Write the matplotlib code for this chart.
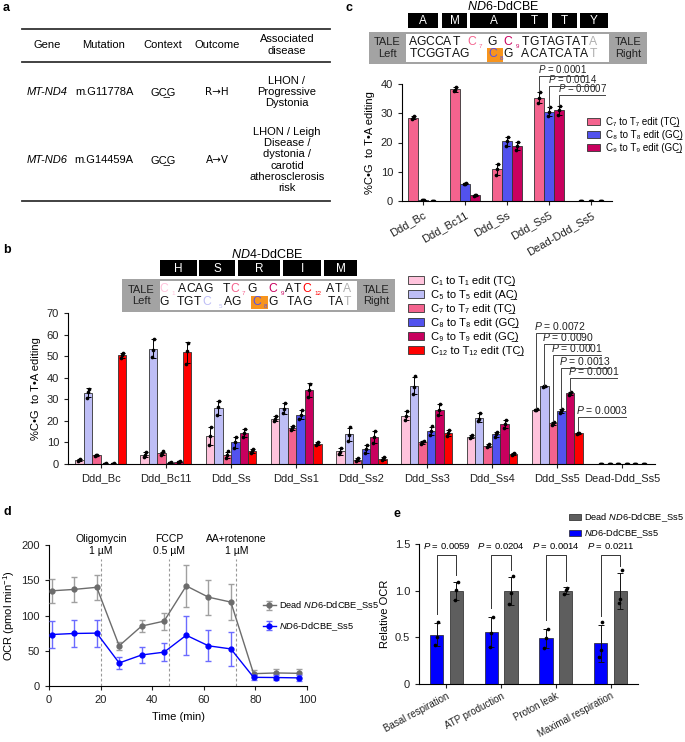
import numpy as np
import matplotlib
matplotlib.use("Agg")
import matplotlib.pyplot as plt
from matplotlib.patches import Rectangle, Patch
from matplotlib.lines import Line2D

plt.rcParams['font.family'] = ['Liberation Sans', 'DejaVu Sans']
plt.rcParams['mathtext.fontset'] = 'custom'
plt.rcParams['mathtext.rm'] = 'Liberation Sans'
plt.rcParams['mathtext.it'] = 'Liberation Sans:italic'
plt.rcParams['mathtext.bf'] = 'Liberation Sans:bold'
plt.rcParams['font.size'] = 8
plt.rcParams['axes.linewidth'] = 0.8
plt.rcParams['xtick.major.width'] = 0.8
plt.rcParams['ytick.major.width'] = 0.8
plt.rcParams['xtick.major.size'] = 3
plt.rcParams['ytick.major.size'] = 3

UL = '\u0332'          # combining low line, underlines the previous letter
SUB = str.maketrans('0123456789', '\u2080\u2081\u2082\u2083\u2084\u2085\u2086\u2087\u2088\u2089')

# ---------------- data ----------------
# panel a
genes = ['MT-ND4', 'MT-ND6']
mutations = ['m.G11778A', 'm.G14459A']
contexts = ['GC' + UL + 'G', 'GC' + UL + 'G']
outcomes = ['R\u2192H', 'A\u2192V']
diseases = ['LHON /\nProgressive\nDystonia',
            'LHON / Leigh\nDisease /\ndystonia /\ncarotid\natherosclerosis\nrisk']

# panel b (ND4-DdCBE), 3 replicates per bar
b_groups = ['Ddd_Bc', 'Ddd_Bc11', 'Ddd_Ss', 'Ddd_Ss1', 'Ddd_Ss2', 'Ddd_Ss3',
            'Ddd_Ss4', 'Ddd_Ss5', 'Dead-Ddd_Ss5']
b_series = ['1', '5', '7', '8', '9', '12']
b_context = ['T', 'A', 'T', 'G', 'G', 'T']
b_c1 = [[1.5, 2.0, 2.5], [3.2, 4.0, 5.6], [9.0, 13.0, 17.0], [20.0, 21.0, 22.2],
        [4.6, 5.4, 7.4], [20.5, 22.3, 24.4], [12.0, 12.7, 13.4], [24.9, 25.2, 25.5],
        [0.0, 0.05, 0.1]]
b_c5 = [[30.8, 33.2, 35.0], [49.5, 53.0, 58.0], [22.5, 26.5, 29.0], [23.5, 25.5, 28.2],
        [10.8, 13.5, 17.0], [32.5, 35.8, 40.6], [19.8, 21.0, 23.7], [35.8, 36.0, 36.2],
        [0.0, 0.05, 0.1]]
b_c7 = [[3.8, 4.1, 4.4], [4.3, 5.0, 5.8], [3.0, 4.0, 5.8], [15.6, 16.6, 17.8],
        [1.5, 2.0, 2.6], [9.3, 10.0, 10.8], [8.0, 8.5, 9.1], [18.3, 18.8, 19.3],
        [0.0, 0.05, 0.1]]
b_c8 = [[0.1, 0.2, 0.3], [0.3, 0.5, 0.7], [7.5, 10.0, 12.5], [21.0, 22.8, 25.0],
        [5.3, 7.0, 8.9], [13.5, 15.3, 17.4], [12.5, 13.9, 15.0], [23.5, 24.4, 25.6],
        [0.0, 0.05, 0.1]]
b_c9 = [[0.1, 0.2, 0.3], [0.7, 1.0, 1.3], [12.7, 14.6, 16.2], [31.0, 34.3, 37.3],
        [9.9, 12.5, 15.5], [22.8, 25.2, 27.6], [16.9, 18.7, 20.5], [32.2, 32.7, 33.2],
        [0.0, 0.05, 0.1]]
b_c12 = [[49.0, 50.4, 51.6], [46.5, 52.5, 56.1], [5.0, 6.0, 7.0], [8.6, 9.5, 10.4],
         [1.9, 2.5, 3.1], [13.0, 14.4, 15.8], [4.4, 4.8, 5.2], [14.0, 14.3, 14.6],
         [0.0, 0.05, 0.1]]
b_reps = [b_c1, b_c5, b_c7, b_c8, b_c9, b_c12]
b_colors = ['#FFC3DC', '#BEBEF6', '#F4638E', '#5252EE', '#C8005E', '#FF0000']
b_pvals = ['0.0072', '0.0090', '0.0001', '0.0013', '0.0001', '0.0003']
b_p_heights = [60.7, 55.6, 50.5, 44.5, 39.9, 21.8]
b_aa = ['H', 'S', 'R', 'I', 'M']

# panel c (ND6-DdCBE)
c_groups = ['Ddd_Bc', 'Ddd_Bc11', 'Ddd_Ss', 'Ddd_Ss5', 'Dead-Ddd_Ss5']
c_series = ['7', '8', '9']
c_context = ['T', 'G', 'G']
c_c7 = [[28.0, 28.4, 29.0], [37.5, 38.0, 38.9], [9.0, 10.8, 12.7], [33.6, 35.2, 37.2],
        [0.05, 0.1, 0.15]]
c_c8 = [[0.3, 0.4, 0.5], [5.8, 5.9, 6.0], [18.8, 20.5, 22.0], [29.0, 30.5, 32.0],
        [0.05, 0.1, 0.15]]
c_c9 = [[0.0, 0.05, 0.1], [1.6, 1.9, 2.2], [17.3, 18.8, 20.3], [29.5, 31.0, 32.5],
        [0.05, 0.1, 0.15]]
c_reps = [c_c7, c_c8, c_c9]
c_colors = ['#F4638E', '#5252EE', '#C8005E']
c_pvals = ['0.0001', '0.0014', '0.0007']
c_p_heights = [42.7, 39.2, 36.2]
c_aa = ['A', 'M', 'A', 'T', 'T', 'Y']

# panel d (Seahorse OCR)
time_min = [1.0, 9.7, 18.5, 27.2, 35.9, 44.6, 53.2, 61.8, 70.5, 79.3, 88.1, 96.8]
dead_ocr = [135, 137, 140, 57, 85, 92, 142, 126, 119, 17.5, 18.5, 18]
dead_sd = [17, 18, 18, 6, 9, 12, 30, 25, 26, 5, 6, 6]
ss5_ocr = [73, 74.5, 75, 32.7, 44, 48, 72, 57, 52.6, 12.3, 12, 11.5]
ss5_sd = [19, 19, 19, 8.5, 12, 13, 28, 22, 24, 4, 4, 4]
injections = [20.2, 46.7, 72.6]
injection_labels = ['Oligomycin\n1 \u00b5M', 'FCCP\n0.5 \u00b5M', 'AA+rotenone\n1 \u00b5M']

# panel e (relative OCR)
e_groups = ['Basal respiration', 'ATP production', 'Proton leak', 'Maximal respiration']
e_ss5 = [[0.42, 0.50, 0.66], [0.40, 0.55, 0.72], [0.39, 0.49, 0.59], [0.29, 0.36, 0.66]]
e_dead = [[0.90, 1.01, 1.09], [0.86, 0.98, 1.16], [0.96, 1.01, 1.03], [0.87, 0.91, 1.22]]
e_pvals = ['0.0059', '0.0204', '0.0014', '0.0211']

# ---------------- figure ----------------
W, H = 685, 742
fig = plt.figure(figsize=(W / 100, H / 100), dpi=100)


def px_axes(x0, y0, x1, y1):
    return fig.add_axes([x0 / W, 1 - y1 / H, (x1 - x0) / W, (y1 - y0) / H])


def ftxt(x, y, s, **kw):
    return fig.text(x / W, 1 - y / H, s, **kw)


def frect(x0, y0, x1, y1, **kw):
    fig.add_artist(Rectangle((x0 / W, 1 - y1 / H), (x1 - x0) / W, (y1 - y0) / H,
                             transform=fig.transFigure, **kw))


def fline(x0, y0, x1, y1, **kw):
    fig.add_artist(Line2D([x0 / W, x1 / W], [1 - y0 / H, 1 - y1 / H],
                          transform=fig.transFigure, **kw))


def style_ax(ax):
    for s in ['top', 'right']:
        ax.spines[s].set_visible(False)
    ax.tick_params(labelsize=8, colors='#222222')


def legend_label(n, ctx):
    s = n.translate(SUB)
    return 'C%s to T%s edit (%sC%s)' % (s, s, ctx, UL)


# panel labels
for lab, x, y in [('a', 3, 8), ('b', 3, 250), ('c', 345, 8), ('d', 3, 512), ('e', 393, 514)]:
    ftxt(x, y, lab, fontsize=9, fontweight='bold', va='center')

# ---------- a: table ----------
fline(22, 29, 330, 29, color='#333333', lw=1.3)
fline(22, 62, 330, 62, color='#333333', lw=1.3)
fline(22, 201, 330, 201, color='#333333', lw=1.3)
col_x = [47, 104, 163, 217, 287]
for cx, h in zip(col_x, ['Gene', 'Mutation', 'Context', 'Outcome', 'Associated\ndisease']):
    ftxt(cx, 45, h, ha='center', va='center', linespacing=1.15)
row_y = [92, 160]
for i, ry in enumerate(row_y):
    ftxt(col_x[0], ry, genes[i], ha='center', va='center', style='italic')
    ftxt(col_x[1], ry, mutations[i], ha='center', va='center')
    ftxt(col_x[2], ry, contexts[i], ha='center', va='center')
    ftxt(col_x[3], ry, outcomes[i], ha='center', va='center', family=['DejaVu Sans'],
         fontsize=7.5)
    ftxt(col_x[4], ry, diseases[i], ha='center', va='center', linespacing=1.15)


# ---------- sequence headers ----------
def seq_header(title, tx, ty, aa, aa_edges, aa_y, box, top, bottom, hl, ys):
    ftxt(tx, ty, title, ha='center', va='center', fontsize=9)
    for a, (x0, x1) in zip(aa, aa_edges):
        frect(x0, aa_y[0], x1, aa_y[1], facecolor='black', edgecolor='none')
        ftxt((x0 + x1) / 2, (aa_y[0] + aa_y[1]) / 2 + 0.5, a, color='white',
             ha='center', va='center', fontsize=8.5)
    gl, wl, wr, gr, y0, y1 = box
    frect(gl, y0, gr, y1, facecolor='#a3a3a3', edgecolor='none')
    frect(wl, y0 + 2, wr, y1 - 2, facecolor='white', edgecolor='none')
    ftxt((gl + wl) / 2, (y0 + y1) / 2, 'TALE\nLeft', ha='center', va='center',
         fontsize=8, linespacing=1.2, color='#222222')
    ftxt((wr + gr) / 2, (y0 + y1) / 2, 'TALE\nRight', ha='center', va='center',
         fontsize=8, linespacing=1.2, color='#222222')
    frect(hl[0], hl[1], hl[2], hl[3], facecolor='#F7941D', edgecolor='none')
    for row, y in zip([top, bottom], ys):
        for x, s, col, sub in row:
            if sub:
                ftxt(x, y + 4, s, ha='center', va='center', fontsize=4.5, color=col)
            else:
                ftxt(x, y, s, ha='center', va='center', fontsize=8.7, color=col)


K, GR = '#111111', '#b0b0b0'
b_top = [(164, 'C', b_colors[0], 0), (173, '1', b_colors[0], 1), (182, 'A', K, 0),
         (191, 'C', K, 0), (199, 'A', K, 0), (208, 'G', K, 0), (226, 'T', K, 0),
         (235, 'C', b_colors[2], 0), (243, '7', b_colors[2], 1), (252, 'G', K, 0),
         (273, 'C', b_colors[4], 0), (282, '9', b_colors[4], 1), (289, 'A', K, 0),
         (297, 'T', K, 0), (307, 'C', b_colors[5], 0), (318, '12', b_colors[5], 1),
         (330, 'A', K, 0), (338, 'T', K, 0), (347, 'A', GR, 0)]
b_bot = [(164, 'G', K, 0), (180, 'T', K, 0), (188, 'G', K, 0), (197, 'T', K, 0),
         (207, 'C', b_colors[1], 0), (220, '5', b_colors[1], 1), (228, 'A', K, 0),
         (236, 'G', K, 0), (257, 'C', b_colors[3], 0), (265, '8', b_colors[3], 1),
         (273, 'G', K, 0), (290, 'T', K, 0), (298, 'A', K, 0), (307, 'G', K, 0),
         (331, 'T', K, 0), (339, 'A', K, 0), (347, 'T', GR, 0)]
seq_header(r'$\mathit{ND4}$-DdCBE', 267, 254, b_aa,
           [(160, 197), (199, 235), (238, 280), (283, 321), (324, 357)], (260, 276),
           (122, 160, 357, 395, 279, 312), b_top, b_bot, (251, 296, 268, 309), (289, 302))

c_top = [(413, 'A', K, 0), (421, 'G', K, 0), (430, 'C', K, 0), (439, 'C', K, 0),
         (447, 'A', K, 0), (456, 'T', K, 0), (472, 'C', c_colors[0], 0),
         (480, '7', c_colors[0], 1), (492, 'G', K, 0), (508, 'C', c_colors[2], 0),
         (517, '9', c_colors[2], 1), (525, 'T', K, 0), (534, 'G', K, 0), (543, 'T', K, 0),
         (551, 'A', K, 0), (559, 'G', K, 0), (568, 'T', K, 0), (576, 'A', K, 0),
         (584, 'T', K, 0), (593, 'A', GR, 0)]
c_bot = [(413, 'T', K, 0), (421, 'C', K, 0), (430, 'G', K, 0), (439, 'G', K, 0),
         (447, 'T', K, 0), (456, 'A', K, 0), (464, 'G', K, 0), (493, 'C', c_colors[1], 0),
         (501, '8', c_colors[1], 1), (508, 'G', K, 0), (525, 'A', K, 0), (534, 'C', K, 0),
         (543, 'A', K, 0), (551, 'T', K, 0), (559, 'C', K, 0), (568, 'A', K, 0),
         (576, 'T', K, 0), (584, 'A', K, 0), (593, 'T', GR, 0)]
seq_header(r'$\mathit{ND6}$-DdCBE', 503, 7, c_aa,
           [(408, 438), (442, 467), (470, 517), (520, 548), (552, 577), (580, 608)],
           (13, 28), (369, 406, 609, 647, 32, 64), c_top, c_bot, (487, 48, 503, 62), (42, 54))


# ---------- grouped bar helper ----------
def grouped_bars(ax, reps_list, colors, width, n):
    x = np.arange(n)
    m = len(reps_list)
    tops = []
    for k, (reps, col) in enumerate(zip(reps_list, colors)):
        arr = np.array(reps)
        mean = arr.mean(axis=1)
        sd = arr.std(axis=1, ddof=1)
        xk = x + (k - (m - 1) / 2) * width
        ax.bar(xk, mean, width=width, color=col, edgecolor='#333333', linewidth=0.6, zorder=2)
        ax.errorbar(xk, mean, yerr=sd, fmt='none', ecolor='black', elinewidth=0.7,
                    capsize=1.8, capthick=0.7, zorder=3)
        for j in range(3):
            ax.scatter(xk + (j - 1) * width * 0.12, arr[:, j], s=7, color='black',
                       zorder=4, linewidths=0)
        tops.append((xk, mean + sd))
    return tops


# ---------- b ----------
ax_b = px_axes(68, 313, 655, 464)
style_ax(ax_b)
bw = 0.13
tops_b = grouped_bars(ax_b, b_reps, b_colors, bw, len(b_groups))
ax_b.set_xlim(-0.5, len(b_groups) - 0.5)
ax_b.set_ylim(0, 70)
ax_b.set_yticks(range(0, 71, 10))
ax_b.set_xticks(range(len(b_groups)))
ax_b.set_xticklabels(b_groups)
ax_b.set_ylabel('%C\u2022G  to T\u2022A editing', labelpad=4)
for k, (pv, hgt) in enumerate(zip(b_pvals, b_p_heights)):
    xs, ys = tops_b[k]
    x0 = xs[7]
    x1 = x0 + 0.73
    ax_b.plot([x0, x0, x1], [ys[7] + 0.5, hgt, hgt], color='#444444', lw=0.7,
              clip_on=False, zorder=5)
    ax_b.text((x0 + x1) / 2, hgt + 0.4, r'$P$ = ' + pv, ha='center', va='bottom',
              fontsize=7.5, color='#222222')
b_handles = [Patch(facecolor=c, edgecolor='#333333', linewidth=0.6) for c in b_colors]
fig.legend(b_handles, [legend_label(s, cx) for s, cx in zip(b_series, b_context)],
           loc='upper left', bbox_to_anchor=(402 / W, 1 - 270 / H), frameon=False,
           fontsize=8, handlelength=1.5, handleheight=0.75, labelspacing=0.36,
           handletextpad=0.6, borderpad=0)

# ---------- c ----------
ax_c = px_axes(402, 84, 612, 201)
style_ax(ax_c)
cw = 0.24
tops_c = grouped_bars(ax_c, c_reps, c_colors, cw, len(c_groups))
ax_c.set_xlim(-0.5, len(c_groups) - 0.5)
ax_c.set_ylim(0, 40)
ax_c.set_yticks(range(0, 41, 10))
ax_c.set_xticks(range(len(c_groups)))
ax_c.set_xticklabels(c_groups, rotation=30, ha='right', rotation_mode='anchor')
ax_c.set_ylabel('%C\u2022G  to T\u2022A editing', labelpad=4)
for k, (pv, hgt) in enumerate(zip(c_pvals, c_p_heights)):
    xs, ys = tops_c[k]
    x0 = xs[3]
    x1 = x0 + 1.1
    ax_c.plot([x0, x0, x1], [ys[3] + 0.3, hgt, hgt], color='#444444', lw=0.7,
              clip_on=False, zorder=5)
    ax_c.text((x0 + x1) / 2, hgt + 0.3, r'$P$ = ' + pv, ha='center', va='bottom',
              fontsize=7, color='#222222')
c_handles = [Patch(facecolor=c, edgecolor='#333333', linewidth=0.6) for c in c_colors]
fig.legend(c_handles, [legend_label(s, cx) for s, cx in zip(c_series, c_context)],
           loc='upper left', bbox_to_anchor=(582 / W, 1 - 112 / H), frameon=False,
           fontsize=7, handlelength=1.4, handleheight=0.75, labelspacing=0.3,
           handletextpad=0.6, borderpad=0)

# ---------- d ----------
ax_d = px_axes(49, 545, 307, 686)
style_ax(ax_d)
for xv, lab in zip(injections, injection_labels):
    ax_d.plot([xv, xv], [0, 180], ls=(0, (2.5, 2)), color='#999999', lw=0.8, zorder=1)
    ax_d.text(xv, 200, lab, ha='center', va='center', fontsize=7.5, linespacing=1.35)
ax_d.errorbar(time_min, dead_ocr, yerr=dead_sd, color='#6c6c6c', marker='o', ms=3.5,
              lw=1, ecolor='#a0a0a0', elinewidth=1, capsize=2.5, capthick=1, zorder=3,
              label=r'Dead $\mathit{ND6}$-DdCBE_Ss5')
ax_d.errorbar(time_min, ss5_ocr, yerr=ss5_sd, color='#0000ff', marker='o', ms=3.5,
              lw=1, ecolor='#6b6bff', elinewidth=1, capsize=2.5, capthick=1, zorder=4,
              label=r'$\mathit{ND6}$-DdCBE_Ss5')
ax_d.set_xlim(0, 100)
ax_d.set_ylim(0, 200)
ax_d.set_xticks(range(0, 101, 20))
ax_d.set_yticks(range(0, 201, 50))
ax_d.set_xlabel('Time (min)', labelpad=5)
ax_d.set_ylabel(r'OCR (pmol min$^{-1}$)', labelpad=3)
ax_d.legend(loc='upper left', bbox_to_anchor=(258 / W, 1 - 595 / H),
            bbox_transform=fig.transFigure, frameon=False, fontsize=6.7,
            handlelength=1.4, labelspacing=0.85, handletextpad=0.4, borderpad=0)

# ---------- e ----------
ax_e = px_axes(419, 544, 638, 684)
style_ax(ax_e)
xe = np.arange(len(e_groups))
ew = 0.24
eo = 0.18
ss5_arr = np.array(e_ss5)
dead_arr = np.array(e_dead)
ss5_m, ss5_s = ss5_arr.mean(axis=1), ss5_arr.std(axis=1, ddof=1)
dead_m, dead_s = dead_arr.mean(axis=1), dead_arr.std(axis=1, ddof=1)
ax_e.bar(xe - eo, ss5_m, ew, color='#0000ff', edgecolor='#222222', lw=0.5, zorder=2)
ax_e.bar(xe + eo, dead_m, ew, color='#5e5e5e', edgecolor='#222222', lw=0.5, zorder=2)
for xx, m, s, arr in [(xe - eo, ss5_m, ss5_s, ss5_arr), (xe + eo, dead_m, dead_s, dead_arr)]:
    ax_e.errorbar(xx, m, yerr=s, fmt='none', ecolor='#111111', elinewidth=0.7,
                  capsize=2, capthick=0.7, zorder=3)
    for j in range(3):
        ax_e.scatter(xx + (j - 1) * 0.03, arr[:, j], s=7, color='black', zorder=4,
                     linewidths=0)
for i, pv in enumerate(e_pvals):
    top = 1.38
    ax_e.plot([xe[i] - eo, xe[i] - eo, xe[i] + eo, xe[i] + eo],
              [ss5_m[i] + ss5_s[i] + 0.1, top, top, dead_m[i] + dead_s[i] + 0.07],
              color='#333333', lw=0.7, zorder=5)
    ax_e.text(xe[i], top + 0.05, r'$P$ = ' + pv, ha='center', va='bottom', fontsize=6.8)
ax_e.set_xlim(-0.5, len(e_groups) - 0.5)
ax_e.set_ylim(0, 1.5)
ax_e.set_yticks([0, 0.5, 1.0, 1.5])
ax_e.set_yticklabels(['0', '0.5', '1.0', '1.5'])
ax_e.set_xticks(xe)
ax_e.set_xticklabels(e_groups, rotation=28, ha='right', rotation_mode='anchor', fontsize=7)
ax_e.tick_params(axis='x', pad=2)
ax_e.set_ylabel('Relative OCR', labelpad=3)
e_handles = [Patch(facecolor='#5e5e5e', edgecolor='#222222', linewidth=0.5),
             Patch(facecolor='#0000ff', edgecolor='#222222', linewidth=0.5)]
fig.legend(e_handles, [r'Dead $\mathit{ND6}$-DdCBE_Ss5', r'$\mathit{ND6}$-DdCBE_Ss5'],
           loc='upper left', bbox_to_anchor=(564 / W, 1 - 507 / H), frameon=False,
           fontsize=6.7, handlelength=1.3, handleheight=0.7, labelspacing=0.35,
           handletextpad=0.4, borderpad=0)

fig.savefig('out.png', dpi=100)
